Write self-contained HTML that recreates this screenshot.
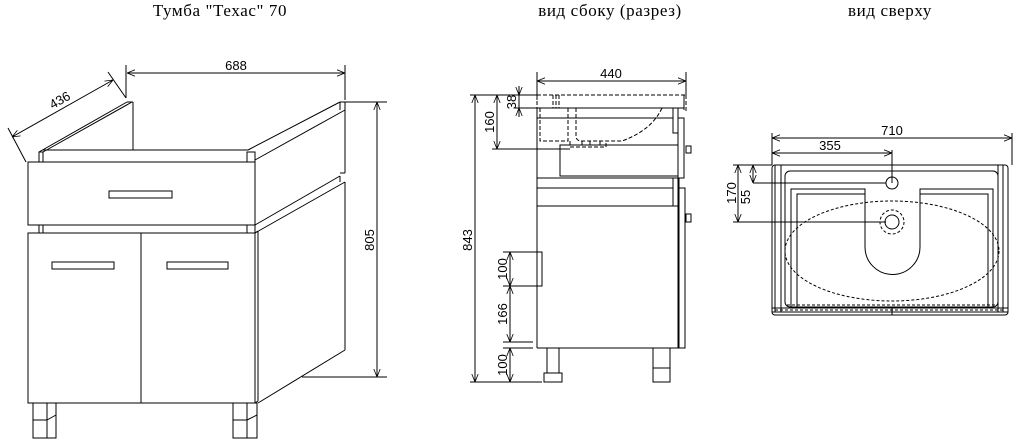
<!DOCTYPE html>
<html><head><meta charset="utf-8"><style>
html,body{margin:0;padding:0;background:#fff;width:1016px;height:440px;overflow:hidden}
.t{font-family:"Liberation Serif","DejaVu Serif",serif;font-size:17px;letter-spacing:0.6px}
.d{font-family:"Liberation Sans",sans-serif;font-size:13px}
</style></head><body>
<svg width="1016" height="440" viewBox="0 0 1016 440" xmlns="http://www.w3.org/2000/svg">
<defs>
<marker id="a" viewBox="0 0 10 10" refX="10" refY="5" markerWidth="8" markerHeight="8" orient="auto-start-reverse" markerUnits="userSpaceOnUse"><path d="M0,1 L10,5 L0,9" fill="none" stroke="#000" stroke-width="1"/></marker>
</defs>
<text class="t" x="220" y="16" text-anchor="middle">Тумба "Техас" 70</text>
<text class="t" x="610" y="16" text-anchor="middle">вид сбоку (разрез)</text>
<text class="t" x="890" y="16" text-anchor="middle">вид сверху</text>

<g stroke="#000" fill="none" stroke-width="1">
<!-- LEFT VIEW -->
<line x1="126" y1="65" x2="126" y2="98"/><line x1="345" y1="65" x2="345" y2="100"/>
<line x1="127" y1="73" x2="345" y2="73" marker-start="url(#a)" marker-end="url(#a)"/>
<line x1="8" y1="128" x2="26" y2="162"/><line x1="108" y1="72" x2="126" y2="98"/>
<line x1="12" y1="137" x2="113" y2="80" marker-start="url(#a)" marker-end="url(#a)"/>
<line x1="39" y1="152" x2="127" y2="102"/><line x1="43" y1="152" x2="132" y2="102"/>
<line x1="127" y1="102" x2="133" y2="102"/>
<line x1="133" y1="102" x2="133" y2="150"/>
<line x1="43" y1="150" x2="248" y2="150"/>
<rect x="39" y="152" width="4" height="10"/><rect x="247" y="152" width="8" height="10"/>
<line x1="248" y1="150" x2="340" y2="102"/><line x1="255" y1="160" x2="345" y2="110"/>
<line x1="340" y1="102" x2="345" y2="102"/><line x1="340" y1="102" x2="340" y2="110"/>
<line x1="345" y1="102" x2="345" y2="173"/>
<rect x="28" y="162" width="227" height="63"/>
<rect x="109" y="191" width="63" height="7"/>
<rect x="39" y="225" width="4" height="8"/><rect x="247" y="225" width="8" height="8"/>
<line x1="255" y1="225" x2="340" y2="176"/><line x1="340" y1="173" x2="345" y2="173"/>
<line x1="255" y1="233" x2="345" y2="182"/><line x1="340" y1="176" x2="340" y2="182"/>
<line x1="345" y1="182" x2="345" y2="350"/>
<line x1="258" y1="403" x2="345" y2="350"/>
<rect x="28" y="233" width="227" height="170"/>
<line x1="141" y1="233" x2="141" y2="403"/>
<line x1="255" y1="233" x2="258" y2="231"/><line x1="255" y1="403" x2="258" y2="401"/><line x1="258" y1="231" x2="258" y2="401"/>
<rect x="52" y="262" width="62" height="7"/><rect x="167" y="262" width="61" height="7"/>
<rect x="33" y="403" width="23" height="35"/><line x1="47" y1="403" x2="47" y2="438"/><line x1="33" y1="420" x2="47" y2="420"/><line x1="47" y1="420" x2="56" y2="415"/>
<rect x="233" y="403" width="24" height="35"/><line x1="247" y1="403" x2="247" y2="438"/><line x1="233" y1="420" x2="247" y2="420"/><line x1="247" y1="420" x2="257" y2="415"/>
<line x1="345" y1="102" x2="387" y2="102"/><line x1="302" y1="377" x2="387" y2="377"/>
<line x1="377" y1="102" x2="377" y2="377" marker-start="url(#a)" marker-end="url(#a)"/>

<!-- MIDDLE VIEW -->
<line x1="537" y1="72" x2="537" y2="100"/><line x1="686" y1="72" x2="686" y2="95"/>
<line x1="537" y1="81" x2="686" y2="81" marker-start="url(#a)" marker-end="url(#a)"/>
<g stroke-dasharray="4,2">
<line x1="537" y1="95" x2="686" y2="95"/><line x1="686" y1="95" x2="686" y2="111"/>
<line x1="537" y1="95" x2="537" y2="108"/>
<path d="M540,108 V141 H568 V108"/>
<path d="M576,108 V136 Q576,141 582,141 L622,141 Q652,130 662,108"/>
<path d="M570,141 V147 H606 V141 M582,141 V147 M590,141 V147 M600,141 V147"/>
<path d="M553,95 V108 M556,95 V108 M559,95 V108"/>
</g>
<line x1="537" y1="108" x2="678" y2="108"/><line x1="537" y1="108" x2="537" y2="348"/>
<line x1="537" y1="348" x2="679" y2="348"/><line x1="678" y1="108" x2="678" y2="348"/>
<line x1="678" y1="108" x2="684" y2="108"/><line x1="684" y1="95" x2="684" y2="110"/>
<rect x="673" y="108" width="5" height="25"/>
<rect x="678" y="118" width="6" height="60"/>
<rect x="686" y="146" width="5" height="7"/>
<rect x="673" y="178" width="6" height="28"/>
<rect x="679" y="188" width="6" height="160"/>
<rect x="686" y="214" width="5" height="8"/>
<line x1="537" y1="118" x2="673" y2="118"/>
<line x1="537" y1="178" x2="673" y2="178"/><line x1="537" y1="188" x2="673" y2="188"/>
<line x1="537" y1="206" x2="673" y2="206"/>
<rect x="560" y="145" width="118" height="31"/>
<rect x="537" y="252" width="5" height="34"/>
<line x1="503" y1="252" x2="537" y2="252"/><line x1="503" y1="286" x2="537" y2="286"/>
<rect x="547" y="348" width="12" height="25"/><rect x="544" y="373" width="18" height="9"/>
<rect x="653" y="348" width="17" height="34"/><line x1="653" y1="368" x2="670" y2="368"/>
<line x1="470" y1="95" x2="537" y2="95"/><line x1="470" y1="382" x2="542" y2="382"/>
<line x1="475" y1="95" x2="475" y2="382" marker-start="url(#a)" marker-end="url(#a)"/>
<line x1="492" y1="149" x2="570" y2="149"/>
<line x1="497" y1="95" x2="497" y2="149" marker-start="url(#a)" marker-end="url(#a)"/>
<line x1="515" y1="108" x2="537" y2="108"/>
<line x1="519" y1="86" x2="519" y2="95" marker-end="url(#a)"/><line x1="519" y1="117" x2="519" y2="108" marker-end="url(#a)"/>
<line x1="519" y1="95" x2="519" y2="108"/>
<line x1="510" y1="252" x2="510" y2="286" marker-start="url(#a)" marker-end="url(#a)"/>
<line x1="510" y1="286" x2="510" y2="342" marker-start="url(#a)" marker-end="url(#a)"/>
<line x1="510" y1="348" x2="510" y2="382" marker-start="url(#a)" marker-end="url(#a)"/>
<line x1="503" y1="342" x2="533" y2="342"/><line x1="503" y1="348" x2="533" y2="348"/>

<!-- RIGHT VIEW -->
<line x1="772" y1="133" x2="772" y2="165"/><line x1="1012" y1="133" x2="1012" y2="165"/>
<line x1="772" y1="138" x2="1012" y2="138" marker-start="url(#a)" marker-end="url(#a)"/>
<line x1="772" y1="153" x2="892" y2="153" marker-start="url(#a)" marker-end="url(#a)"/>
<line x1="892" y1="150" x2="892" y2="183"/>
<rect x="772" y="165" width="236" height="150" rx="3"/>
<line x1="775" y1="165" x2="775" y2="312"/><line x1="781" y1="165" x2="781" y2="312"/>
<line x1="1003" y1="165" x2="1003" y2="312"/><line x1="998" y1="165" x2="998" y2="312"/>
<line x1="772" y1="308" x2="1008" y2="308"/><line x1="772" y1="312" x2="1008" y2="312"/>
<line x1="892" y1="308" x2="892" y2="315"/>
<rect x="785" y="171" width="213" height="136" rx="5"/>
<path d="M791,307 V189 H865 V247 A27.5,27.5 0 0 0 920,247 V189 H993 V307"/>
<path d="M797,307 V194 H865 M920,194 H988 V307"/>
<circle cx="892" cy="183" r="6"/>
<g stroke-dasharray="3,2">
<ellipse cx="892" cy="251" rx="107" ry="50"/>
<circle cx="892" cy="222" r="12"/>
<line x1="787" y1="305" x2="996" y2="305"/>
<line x1="775" y1="310" x2="1005" y2="310"/>
</g>
<circle cx="892" cy="222" r="7"/>
<line x1="733" y1="165" x2="772" y2="165"/><line x1="733" y1="222" x2="886" y2="222"/>
<line x1="738" y1="165" x2="738" y2="222" marker-start="url(#a)" marker-end="url(#a)"/>
<line x1="753" y1="183" x2="886" y2="183"/>
<line x1="753" y1="165" x2="753" y2="183" marker-start="url(#a)" marker-end="url(#a)"/>
</g>

<text class="d" x="236" y="70" text-anchor="middle">688</text>
<text class="d" transform="translate(62,104) rotate(-30)" text-anchor="middle">436</text>
<text class="d" transform="translate(374,240) rotate(-90)" text-anchor="middle">805</text>
<text class="d" x="611" y="78" text-anchor="middle">440</text>
<text class="d" transform="translate(472,240) rotate(-90)" text-anchor="middle">843</text>
<text class="d" transform="translate(494,122) rotate(-90)" text-anchor="middle">160</text>
<text class="d" transform="translate(516,102) rotate(-90)" text-anchor="middle">38</text>
<text class="d" transform="translate(507,269) rotate(-90)" text-anchor="middle">100</text>
<text class="d" transform="translate(507,314) rotate(-90)" text-anchor="middle">166</text>
<text class="d" transform="translate(507,365) rotate(-90)" text-anchor="middle">100</text>
<text class="d" x="892" y="135" text-anchor="middle">710</text>
<text class="d" x="830" y="150" text-anchor="middle">355</text>
<text class="d" transform="translate(736,193) rotate(-90)" text-anchor="middle">170</text>
<text class="d" transform="translate(750,197) rotate(-90)" text-anchor="middle">55</text>
</svg>
</body></html>
